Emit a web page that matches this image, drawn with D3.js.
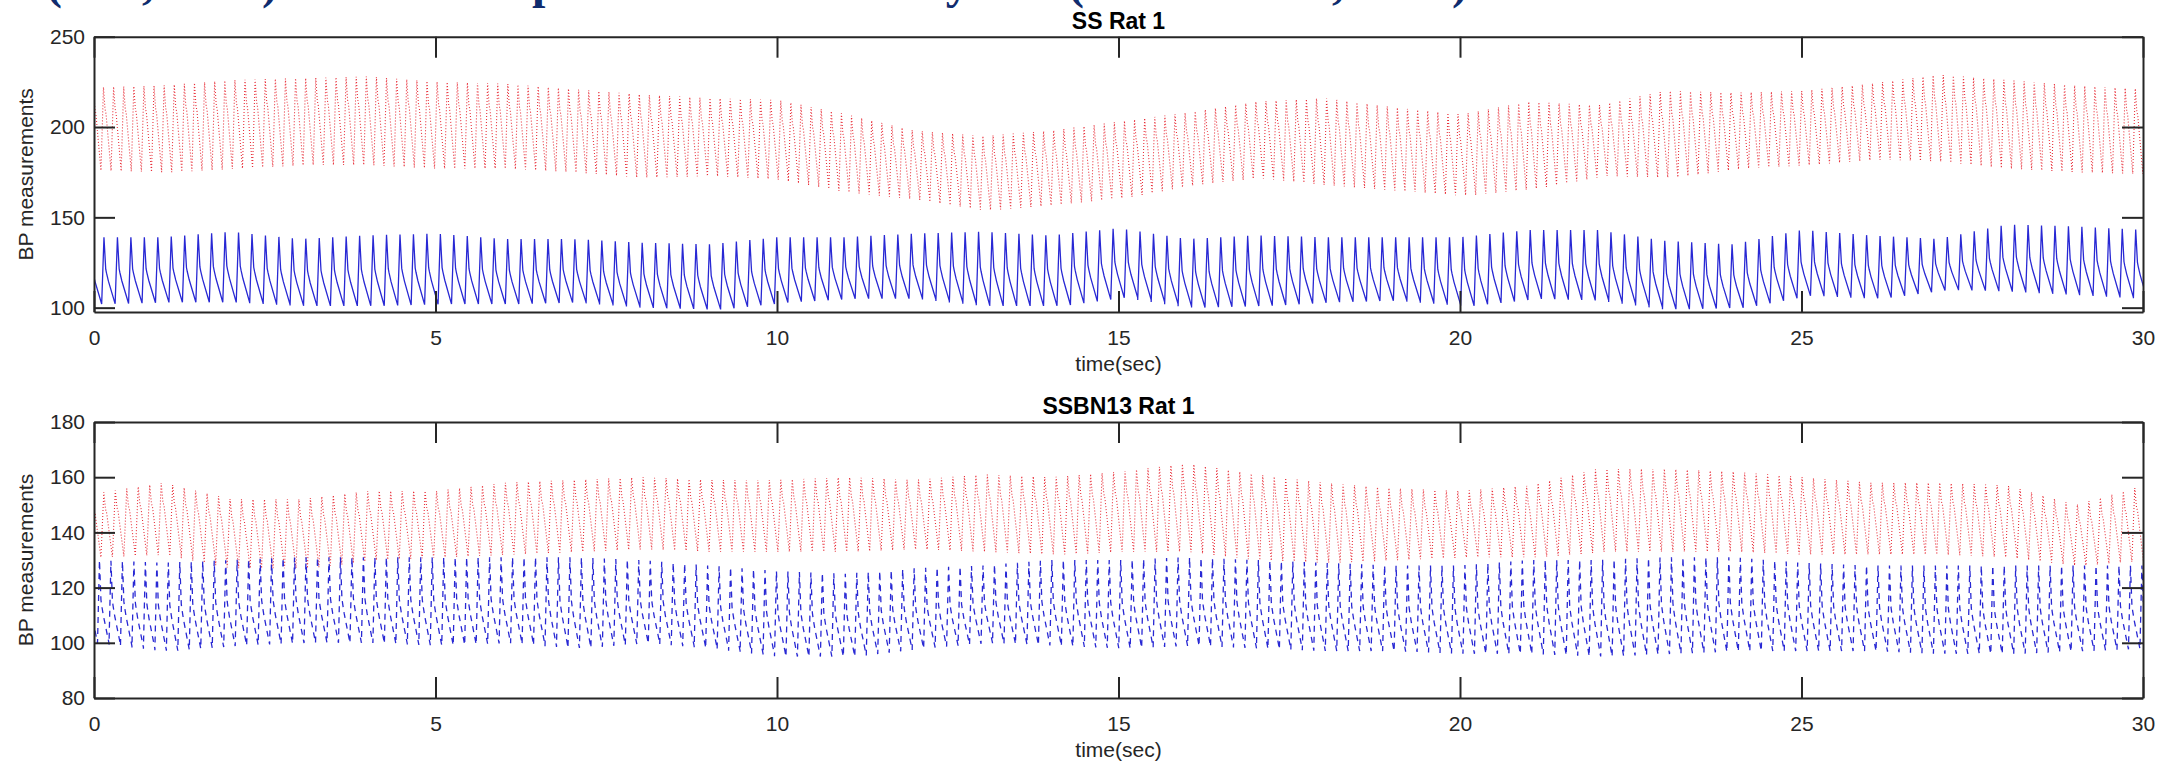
<!DOCTYPE html>
<html>
<head>
<meta charset="utf-8">
<script src="https://cdn.jsdelivr.net/npm/d3@7/dist/d3.min.js"></script>
<style>
  body { margin: 0; background: #fff; }
  svg { display: block; font-family: "Liberation Sans", Arial, Helvetica, sans-serif; }
  .axis path, .axis line { stroke: #262626; stroke-width: 2; }
  .axis text { fill: #262626; font-size: 21px; }
</style>
</head>
<body>
<script>
var width = 2172, height = 767;

// envelope readings, one value per second (0..30 s)
var envTime = [0,1,2,3,4,5,6,7,8,9,10,11,12,13,14,15,16,17,18,19,20,21,22,23,24,25,26,27,28,29,30];

// SS Rat 1
var ssRedHi  = [222,223,226,227,228,225,224,221,218,216,215,207,198,195,198,203,208,214,216,211,207,214,212,220,219,220,224,229,226,223,221];
var ssRedLo  = [176,175,177,179,179,177,177,175,172,173,171,164,160,154,157,161,168,172,168,165,162,166,173,172,177,179,182,181,177,175,174];
var ssBlueHi = [139,139,142,138,140,141,138,138,136,135,139,139,141,142,140,144,138,140,139,139,139,143,143,137,135,143,140,138,146,145,143];
var ssBlueLo = [102,103,103,101,101,102,102,103,100,99,103,105,105,101,101,106,100,101,103,104,101,105,104,99,100,107,105,110,109,107,105];

// SSBN13 Rat 1
var bnRedHi  = [154,158,152,152,155,155,158,159,160,159,159,160,159,161,160,162,165,161,158,156,155,157,163,163,162,160,158,158,157,150,157];
var bnRedLo  = [131,132,127,127,130,131,132,133,134,133,133,133,134,133,132,133,133,130,129,130,131,131,133,133,133,132,132,132,131,128,130];
var bnBlueHi = [130,129,130,131,131,131,131,131,130,128,126,125,127,128,130,130,131,130,129,128,128,130,130,131,131,129,128,128,128,128,128];
var bnBlueLo = [100,97,99,100,100,99,100,98,100,98,95,95,98,100,99,98,99,98,97,97,96,96,95,96,97,97,97,96,96,97,98];

// beat length (s) and time of first peak
var ssRedBeat = 0.148, ssRedFirst = 0.127;
var ssBlueBeat = 0.197, ssBlueFirst = 0.146;
var bnRedBeat = 0.168, bnRedFirst = 0.13;
var bnBlueBeat = 0.168, bnBlueFirst = 0.08;

// one pulse: [fraction of beat, fraction of trough->peak]
var bluePulse = [[0,0],[0.17,1],[0.3,0.52],[0.36,0.46],[0.5,0.34],[1,0]];
var redPulse  = [[0,0],[0.25,1],[0.4,0.74],[0.5,0.68],[1,0]];
var pulsePeak = 0.17;

var xTicks = [0,5,10,15,20,25,30];

var svg = d3.select("body").append("svg")
    .attr("width", width)
    .attr("height", height);

// slide heading, cut off by the top of the picture
var head = svg.append("g")
    .attr("fill", "#102c6e")
    .attr("font-family", "'Liberation Serif', 'Times New Roman', serif")
    .attr("font-weight", "bold")
    .attr("font-size", 48);
head.append("text").attr("x", 46).attr("y", -2).text("(Sun, 2019)");
head.append("text").attr("x", 400).attr("y", -2).text("Blood pressure");
head.append("text").attr("x", 775).attr("y", -2).text("of rats by");
head.append("text").attr("x", 1068).attr("y", -2).text("(Roman et al, 2018)");

function buildWave(hi, lo, beat, first, shape) {
  var hiAt = d3.scaleLinear().domain(envTime).range(hi);
  var loAt = d3.scaleLinear().domain(envTime).range(lo);
  var pts = [];
  var t0 = first - pulsePeak * beat;
  while (t0 > 0) t0 -= beat;
  for (; t0 < 30 + beat; t0 += beat) {
    var h = hiAt(Math.max(0, Math.min(30, t0 + pulsePeak * beat)));
    var l = loAt(Math.max(0, Math.min(30, t0)));
    shape.forEach(function(k) {
      pts.push([t0 + k[0] * beat, l + k[1] * (h - l)]);
    });
  }
  return pts;
}

var panels = [
  { title: "SS Rat 1", top: 36.7, bottom: 312, yDomain: [97.6, 250], yTicks: [100,150,200,250],
    series: [
      { data: buildWave(ssRedHi, ssRedLo, ssRedBeat, ssRedFirst, redPulse), color: "#e8303a", w: 1.1, dash: "1,2" },
      { data: buildWave(ssBlueHi, ssBlueLo, ssBlueBeat, ssBlueFirst, bluePulse), color: "#2828d4", w: 1.3, dash: null }
    ] },
  { title: "SSBN13 Rat 1", top: 422, bottom: 698, yDomain: [80, 180], yTicks: [80,100,120,140,160,180],
    series: [
      { data: buildWave(bnRedHi, bnRedLo, bnRedBeat, bnRedFirst, redPulse), color: "#e8303a", w: 1.1, dash: "1,2" },
      { data: buildWave(bnBlueHi, bnBlueLo, bnBlueBeat, bnBlueFirst, bluePulse), color: "#2828d4", w: 1.3, dash: "6,5" }
    ] }
];

var left = 94, right = 2143, tick = 21;

panels.forEach(function(p, i) {
  var x = d3.scaleLinear().domain([0, 30]).range([left, right]);
  var y = d3.scaleLinear().domain(p.yDomain).range([p.bottom, p.top]);

  svg.append("clipPath").attr("id", "clip" + i)
    .append("rect")
    .attr("x", left).attr("y", p.top)
    .attr("width", right - left).attr("height", p.bottom - p.top);

  var line = d3.line()
      .x(function(d) { return x(d[0]); })
      .y(function(d) { return y(d[1]); });

  var g = svg.append("g").attr("clip-path", "url(#clip" + i + ")");
  p.series.forEach(function(s) {
    g.append("path")
      .attr("d", line(s.data))
      .attr("fill", "none")
      .attr("stroke", s.color)
      .attr("stroke-width", s.w)
      .attr("stroke-dasharray", s.dash);
  });

  // box with inward ticks on every side
  svg.append("g").attr("class", "axis")
    .attr("transform", "translate(0," + p.bottom + ")")
    .call(d3.axisBottom(x).tickValues(xTicks).tickSizeInner(-tick).tickSizeOuter(0).tickPadding(18));
  svg.append("g").attr("class", "axis")
    .attr("transform", "translate(0," + p.top + ")")
    .call(d3.axisTop(x).tickValues(xTicks).tickSizeInner(-tick).tickSizeOuter(0).tickFormat(""));
  svg.append("g").attr("class", "axis")
    .attr("transform", "translate(" + left + ",0)")
    .call(d3.axisLeft(y).tickValues(p.yTicks).tickSizeInner(-tick).tickSizeOuter(0).tickPadding(9));
  svg.append("g").attr("class", "axis")
    .attr("transform", "translate(" + right + ",0)")
    .call(d3.axisRight(y).tickValues(p.yTicks).tickSizeInner(-tick).tickSizeOuter(0).tickFormat(""));

  svg.append("text")
    .attr("x", (left + right) / 2).attr("y", p.top - 8)
    .attr("text-anchor", "middle")
    .attr("font-weight", "bold").attr("font-size", 23)
    .attr("fill", "#000")
    .text(p.title);

  svg.append("text")
    .attr("x", (left + right) / 2).attr("y", p.bottom + 59)
    .attr("text-anchor", "middle")
    .attr("font-size", 21).attr("fill", "#262626")
    .text("time(sec)");

  svg.append("text")
    .attr("transform", "translate(33," + (p.top + p.bottom) / 2 + ") rotate(-90)")
    .attr("text-anchor", "middle")
    .attr("font-size", 21).attr("fill", "#262626")
    .text("BP measurements");
});
</script>
</body>
</html>
